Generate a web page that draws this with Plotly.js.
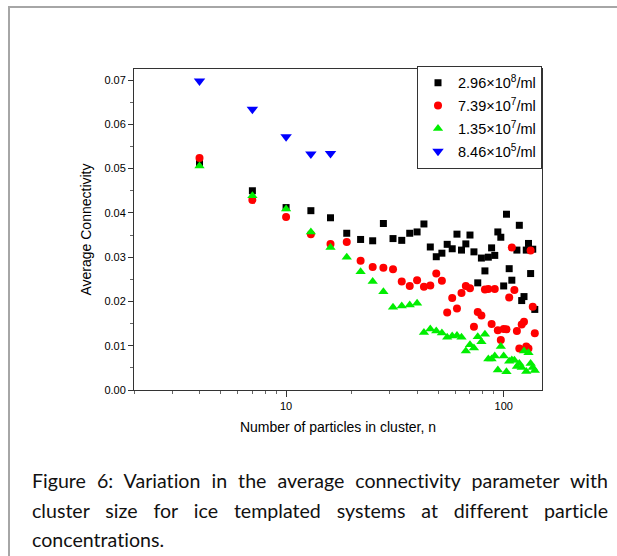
<!DOCTYPE html>
<html>
<head>
<meta charset="utf-8">
<script src="https://cdn.plot.ly/plotly-3.0.1.min.js"></script>
<style>
  html, body { margin:0; padding:0; background:#fff; width:617px; height:556px; overflow:hidden; }
  #frame { position:absolute; left:8px; top:6px; width:700px; height:700px; border-top:2px solid #a6a6a6; border-left:2px solid #a6a6a6; }
  #chart { position:absolute; left:0; top:0; width:617px; height:450px; }
  #caption { position:absolute; left:32px; top:466px; width:576px; font-family:Lato, "Open Sans", sans-serif; font-size:19.6px; line-height:29.5px; text-align:justify; color:#111; font-variant-ligatures:none; font-feature-settings:"liga" 0; }
</style>
</head>
<body>
<div id="frame"></div>
<div id="chart"></div>
<div id="caption">Figure 6: Variation in the average connectivity parameter with cluster size for ice templated systems at different particle concentrations.</div>
<script>
// Series names
const seriesNames = [
  "2.96\u00d710<sup>8</sup>/ml",
  "7.39\u00d710<sup>7</sup>/ml",
  "1.35\u00d710<sup>7</sup>/ml",
  "8.46\u00d710<sup>5</sup>/ml"
];

// 2.96e8 /ml (black squares)
const nBlack = [4,7,10,13,16,19,22,25,28,31,34,37,40,43,46,49,52,55,58,61,64,67,70,73,76,79,82,85,88,91,94,97,100,103,106,109,115,118,121,124,127,130,133,136,139];
const vBlack = [0.0512,0.0450,0.0412,0.0405,0.0389,0.0354,0.0340,0.0337,0.0376,0.0342,0.0338,0.0354,0.0357,0.0375,0.0323,0.0301,0.0309,0.0329,0.0319,0.0352,0.0316,0.0330,0.0350,0.0312,0.0242,0.0298,0.0269,0.0300,0.0321,0.0304,0.0357,0.0345,0.0235,0.0397,0.0274,0.0248,0.0316,0.0372,0.0202,0.0211,0.0316,0.0331,0.0263,0.0318,0.0182];

// 7.39e7 /ml (red circles)
const nRed = [4,7,10,13,16,19,22,25,28,31,34,37,40,43,46,49,52,55,58,61,64,67,70,73,76,79,82,85,88,91,94,97,100,103,106,109,112,115,118,121,124,127,130,133,136,139];
const vRed = [0.0524,0.0429,0.0391,0.0352,0.0330,0.0334,0.0292,0.0278,0.0276,0.0273,0.0245,0.0235,0.0248,0.0233,0.0236,0.0263,0.0247,0.0175,0.0208,0.0184,0.0219,0.0235,0.0230,0.0143,0.0176,0.0168,0.0227,0.0228,0.0149,0.0228,0.0135,0.0113,0.0138,0.0137,0.0209,0.0322,0.0226,0.0133,0.0094,0.0148,0.0154,0.0098,0.0094,0.0315,0.0188,0.0128];

// 1.35e7 /ml (green triangles)
const nGreen = [4,7,10,13,16,19,22,25,28,31,34,37,40,43,46,49,52,55,58,61,64,67,70,73,76,79,82,85,88,91,94,97,100,103,106,109,112,115,118,121,124,127,130,133,136,139];
const vGreen = [0.0506,0.0439,0.0409,0.0357,0.0322,0.0300,0.0267,0.0245,0.0222,0.0187,0.0190,0.0192,0.0196,0.0130,0.0138,0.0133,0.0129,0.0119,0.0122,0.0123,0.0119,0.0088,0.0102,0.0095,0.0120,0.0109,0.0126,0.0070,0.0070,0.0077,0.0045,0.0098,0.0077,0.0041,0.0065,0.0068,0.0067,0.0053,0.0060,0.0051,0.0088,0.0042,0.0084,0.0060,0.0051,0.0044];

// 8.46e5 /ml (blue down-triangles)
const nBlue = [4,7,10,13,16];
const vBlue = [0.0698,0.0634,0.0572,0.0533,0.0534];

const yTickVals = [0,0.01,0.02,0.03,0.04,0.05,0.06,0.07];
const xTickVals = [10,100];
const xTickText = ["10","100"];

const traces = [
  {x:nBlack, y:vBlack, name:seriesNames[0], legendgroup:'a', type:'scatter', mode:'markers',
   marker:{symbol:'square', size:7, color:'#000000'}},
  {x:nRed, y:vRed, name:seriesNames[1], legendgroup:'b', type:'scatter', mode:'markers',
   marker:{symbol:'circle', size:8, color:'#ff0000'}},
  {x:nGreen, y:vGreen, name:seriesNames[2], legendgroup:'c', type:'scatter', mode:'markers',
   marker:{symbol:'triangle-up', size:9, color:'#00ee00'}},
  {x:nBlue, y:vBlue, name:seriesNames[3], legendgroup:'d', type:'scatter', mode:'markers',
   marker:{symbol:'triangle-down', size:10, color:'#0000ff'}}
];

const axisFont = {family:'"Liberation Sans", Arial, sans-serif', size:11, color:'#000'};

const layout = {
  width:617, height:450,
  margin:{l:134, r:75, t:69, b:60},
  paper_bgcolor:'rgba(0,0,0,0)', plot_bgcolor:'#fff',
  showlegend:true,
  font:{family:'"Liberation Sans", Arial, sans-serif', color:'#000'},
  xaxis:{
    type:'log', range:[Math.log10(2), Math.log10(150)],
    tickvals:xTickVals, ticktext:xTickText,
    ticks:'outside', ticklen:6, tickwidth:1, tickcolor:'#333',
    minor:{ticks:'outside', ticklen:3, tickcolor:'#666', tickvals:[2,3,4,5,6,7,8,9,20,30,40,50,60,70,80,90]},
    showline:true, linecolor:'#333', linewidth:1, mirror:true,
    showgrid:false, zeroline:false,
    tickfont:axisFont,
    title:{text:'Number of particles in cluster, n', font:{size:14, color:'#000'}, standoff:10}
  },
  yaxis:{
    range:[0, 0.0725],
    tickvals:yTickVals, tickformat:'.2f',
    ticks:'outside', ticklen:5, tickwidth:1, tickcolor:'#333',
    minor:{ticks:'outside', ticklen:3, tickcolor:'#666', dtick:0.005},
    showline:true, linecolor:'#333', linewidth:1, mirror:true,
    showgrid:false, zeroline:false,
    tickfont:axisFont,
    title:{text:'Average Connectivity', font:{size:14, color:'#000'}, standoff:9}
  },
  legend:{
    x:1, y:1.01, xanchor:'right', yanchor:'top',
    bgcolor:'#fff', bordercolor:'#333', borderwidth:1,
    font:{size:14.5, color:'#000'},
    tracegroupgap:1, itemwidth:30
  }
};

Plotly.newPlot('chart', traces, layout, {displayModeBar:false, staticPlot:true});
</script>
</body>
</html>
